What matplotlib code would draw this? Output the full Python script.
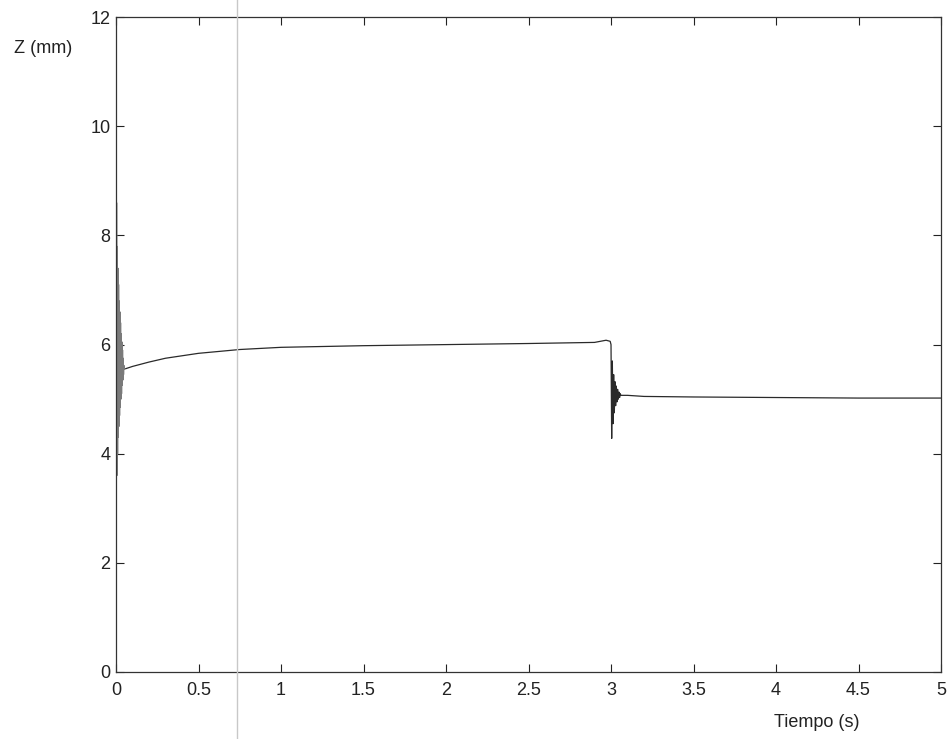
import matplotlib
matplotlib.use('Agg')
import matplotlib.pyplot as plt

plt.rcParams['font.family'] = ['Liberation Sans', 'DejaVu Sans']

# Initial transient (0 - 0.05 s)
t_start = [0.0, 0.002, 0.004, 0.006, 0.008, 0.010, 0.012, 0.014, 0.016, 0.018,
           0.020, 0.022, 0.024, 0.026, 0.028, 0.030, 0.032, 0.034, 0.036, 0.038,
           0.040, 0.042, 0.044, 0.046, 0.048, 0.050]
z_start = [9.3, 3.0, 8.6, 3.6, 7.8, 4.0, 7.4, 4.3, 7.1, 4.5,
           6.8, 4.7, 6.6, 4.85, 6.4, 5.0, 6.2, 5.1, 6.05, 5.25,
           5.9, 5.35, 5.75, 5.45, 5.62, 5.55]

# Slow rise up to the step at 3 s
t_rise = [0.06, 0.1, 0.2, 0.3, 0.5, 0.75, 1.0, 1.5, 2.0, 2.5, 2.9, 2.97, 2.995]
z_rise = [5.56, 5.6, 5.68, 5.75, 5.84, 5.91, 5.95, 5.98, 6.0, 6.02, 6.04, 6.08, 6.06]

# Transient after the step
t_step = [3.0, 3.004, 3.008, 3.012, 3.016, 3.020, 3.024, 3.028, 3.032, 3.036,
          3.040, 3.044, 3.048, 3.052, 3.056, 3.060]
z_step = [6.0, 4.28, 5.7, 4.55, 5.45, 4.75, 5.32, 4.88, 5.24, 4.95,
          5.18, 5.0, 5.13, 5.03, 5.1, 5.07]

# Settled level
t_end = [3.1, 3.2, 3.5, 4.0, 4.5, 5.0]
z_end = [5.07, 5.05, 5.04, 5.03, 5.02, 5.02]

fig = plt.figure(figsize=(9.51, 7.39), dpi=100)
ax = fig.add_axes([0.122, 0.0907, 0.8675, 0.886])

# first transient appears lighter in the scan
ax.plot(t_start + t_rise[:1], z_start + z_rise[:1], color='#7a7a7a', linewidth=0.8)
ax.plot(t_rise + t_step + t_end, z_rise + z_step + z_end, color='#2a2a2a', linewidth=0.9)

ax.set_xlim(0, 5)
ax.set_ylim(0, 12)
ax.set_xticks([0, 0.5, 1, 1.5, 2, 2.5, 3, 3.5, 4, 4.5, 5])
ax.set_xticklabels(['0', '0.5', '1', '1.5', '2', '2.5', '3', '3.5', '4', '4.5', '5'])
ax.set_yticks([0, 2, 4, 6, 8, 10, 12])
ax.tick_params(direction='in', length=6, width=0.8, labelsize=13, colors='#222222',
               top=True, right=True)
ax.tick_params(axis='x', pad=7)
ax.tick_params(axis='y', pad=4)
for s in ax.spines.values():
    s.set_linewidth(0.9)
    s.set_color('#333333')

fig.text(0.015, 0.928, 'Z (mm)', fontsize=13, color='#222222')
fig.text(0.814, 0.016, 'Tiempo (s)', fontsize=13, color='#222222')

# faint scan fold line
fig.add_artist(plt.Line2D([0.249, 0.249], [0, 1], transform=fig.transFigure,
                          color='#c8c8c8', linewidth=1.0))

fig.savefig('out.png', dpi=100)
